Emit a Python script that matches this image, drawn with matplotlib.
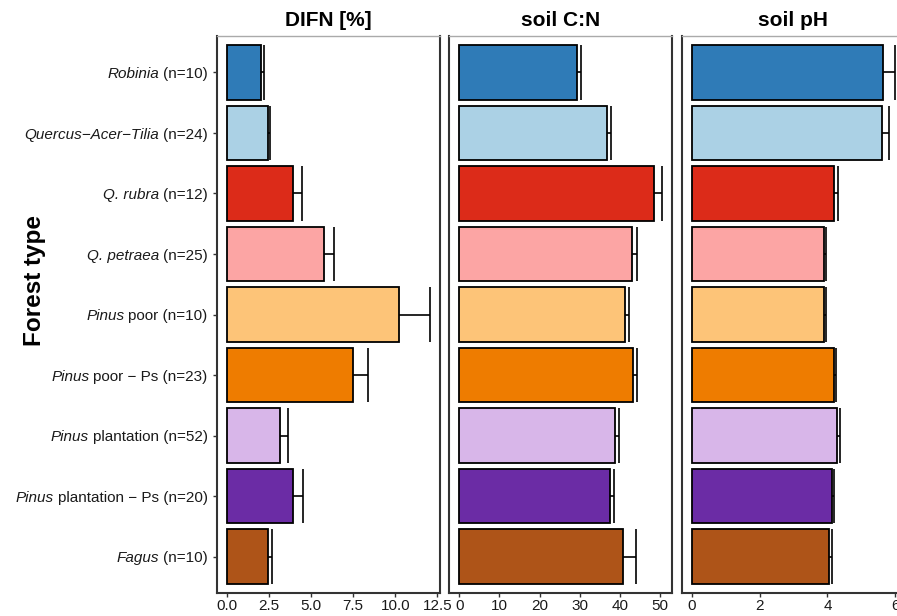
import matplotlib
matplotlib.use("Agg")
import matplotlib.pyplot as plt
import numpy as np

plt.rcParams['font.family'] = ['Liberation Sans', 'DejaVu Sans']

# categories (top to bottom): italic genus part + plain suffix
genus = ["Robinia", "Quercus\u2212Acer\u2212Tilia", "Q. rubra", "Q. petraea", "Pinus",
         "Pinus", "Pinus", "Pinus", "Fagus"]
suffix = ["(n=10)", "(n=24)", "(n=12)", "(n=25)", "poor (n=10)", "poor \u2212 Ps (n=23)",
          "plantation (n=52)", "plantation \u2212 Ps (n=20)", "(n=10)"]
colors = ["#2f7bb7", "#abd1e5", "#dc2b19", "#fca5a4", "#fdc478", "#ee7c00",
          "#d8b6e9", "#6b2ca5", "#ae5418"]

difn_mean = [2.02, 2.44, 3.92, 5.75, 10.2, 7.46, 3.15, 3.92, 2.44]
difn_se = [0.18, 0.12, 0.53, 0.60, 1.83, 0.90, 0.47, 0.60, 0.24]
cn_mean = [29.2, 36.7, 48.4, 42.9, 41.2, 43.2, 38.7, 37.4, 40.7]
cn_se = [1.0, 1.0, 2.0, 1.2, 1.0, 1.0, 1.0, 1.0, 3.2]
ph_mean = [5.64, 5.62, 4.19, 3.89, 3.89, 4.19, 4.27, 4.13, 4.04]
ph_se = [0.34, 0.19, 0.12, 0.06, 0.06, 0.05, 0.09, 0.06, 0.09]

titles = ["DIFN [%]", "soil C:N", "soil pH"]
xticks = [[0, 2.5, 5, 7.5, 10, 12.5], [0, 10, 20, 30, 40, 50], [0, 2, 4, 6]]
xticklabels = [["0.0", "2.5", "5.0", "7.5", "10.0", "12.5"],
               ["0", "10", "20", "30", "40", "50"], ["0", "2", "4", "6"]]

W, H = 897, 616
fig = plt.figure(figsize=(W / 100, H / 100), dpi=100)
renderer = fig.canvas.get_renderer()

lefts = [216.7, 449.0, 681.7]
pw = 223.0
top, bottom = 36.0, 593.0
means = [difn_mean, cn_mean, ph_mean]
ses = [difn_se, cn_se, ph_se]

n = len(genus)
ypos = np.arange(n)[::-1] + 1  # top category at highest position
FS = 11

for i in range(3):
    ax = fig.add_axes([lefts[i] / W, (H - bottom) / H, pw / W, (bottom - top) / H])
    m = np.array(means[i]); s = np.array(ses[i])
    ax.errorbar(m, ypos, xerr=[np.zeros(n), s], fmt='none', ecolor='black',
                elinewidth=1.2, capsize=0, zorder=1)
    for y, v, e in zip(ypos, m, s):
        ax.plot([v + e, v + e], [y - 0.45, y + 0.45], color='black', lw=1.2, zorder=1,
                solid_capstyle='butt')
    ax.barh(ypos, m, height=0.9, color=colors, edgecolor='black', linewidth=1.3, zorder=2)
    M = max(m + s)
    ax.set_xlim(-0.05 * M, 1.05 * M)
    ax.set_ylim(0.4, n + 0.6)
    ax.set_xticks(xticks[i])
    ax.set_xticklabels(xticklabels[i])
    ax.tick_params(axis='x', length=3, width=1, color='#333333', labelsize=FS,
                   pad=1.5, labelcolor='#1a1a1a')
    for side in ['left', 'right', 'bottom']:
        ax.spines[side].set_color('#333333')
        ax.spines[side].set_linewidth(1.5)
    ax.spines['top'].set_color('#aaaaaa')
    ax.spines['top'].set_linewidth(1.0)
    ax.set_title(titles[i], fontsize=15, fontweight='bold', pad=7)
    if i == 0:
        ax.set_yticks(ypos)
        ax.set_yticklabels([])
        ax.tick_params(axis='y', length=3, width=1, color='#333333')
        off = 3 + 3.6  # tick length + pad, points
        for y, g, s_ in zip(ypos, genus, suffix):
            t2 = ax.annotate(s_, xy=(0, y), xycoords=('axes fraction', 'data'),
                             xytext=(-off, -1.2), textcoords='offset points',
                             ha='right', va='center', fontsize=FS, color='#1a1a1a')
            wpx = t2.get_window_extent(renderer).width
            wpt = wpx * 72 / fig.dpi + FS * 0.26
            ax.annotate(g, xy=(0, y), xycoords=('axes fraction', 'data'),
                        xytext=(-off - wpt, -1.2), textcoords='offset points',
                        ha='right', va='center', fontsize=FS, style='italic',
                        color='#1a1a1a')
    else:
        ax.set_yticks([])

fig.text(35 / W, 1 - 280 / H, "Forest type", rotation=90, fontsize=17.5,
         fontweight='bold', ha='center', va='center')

fig.savefig("out.png", dpi=100)
